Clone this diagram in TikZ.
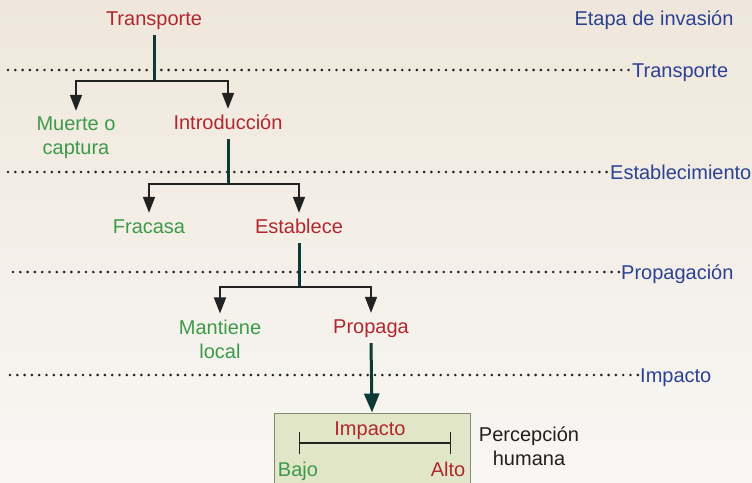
\documentclass[tikz,border=0pt]{standalone}
\usepackage{fontspec}
\setmainfont{Liberation Sans}
\usetikzlibrary{arrows.meta}
\definecolor{cred}{HTML}{B2262D}
\definecolor{cgreen}{HTML}{3C9A4A}
\definecolor{cblue}{HTML}{2C4193}
\definecolor{cstem}{HTML}{0E3A35}
\definecolor{cbranch}{HTML}{222222}
\definecolor{bgtop}{HTML}{EFE7DB}
\definecolor{bgbot}{HTML}{F8F7F4}
\definecolor{boxfill}{HTML}{E2E6C9}
\definecolor{boxline}{HTML}{868A6C}
\definecolor{cdark}{HTML}{231F20}
\tikzset{
  lbl/.style={inner xsep=3pt, inner ysep=6pt, text height=14pt, text depth=4pt},
  mlbl/.style={inner xsep=3pt, inner ysep=6pt, align=center},
  redtxt/.style={text=cred},
  greentxt/.style={text=cgreen},
  stage/.style={text=cblue, anchor=west, inner xsep=2pt, inner ysep=0pt, text height=16pt, text depth=2pt},
  stem/.style={draw=cstem, line width=3pt},
  branch/.style={draw=cbranch, line width=1.7pt, -{Triangle[width=12pt,length=16pt]}},
  bigarrow/.style={draw=cstem, line width=3pt, -{Triangle[width=15pt,length=19pt]}},
  dotline/.style={draw=cbranch, line width=2.9pt, line cap=round, dash pattern=on 0pt off 7.3pt},
}
\begin{document}
\begin{tikzpicture}[x=1pt,y=-1pt, font=\fontsize{20}{24}\selectfont]
\useasboundingbox (0,0) rectangle (752,482);
\clip (0,0) rectangle (752,482);
\shade[top color=bgtop, bottom color=bgbot] (0,0) rectangle (752,482);

% stage labels
\node[lbl, text=cblue] (etapa) at (654,20) {Etapa de invasión};
\node[stage] (st1) at (630,70) {Transporte};
\node[stage] (st2) at (608,172) {Establecimiento};
\node[stage] (st3) at (619,272) {Propagación};
\node[stage] (st4) at (638,375) {Impacto};
\coordinate (d1) at (8,70);
\coordinate (d2) at (8,172);
\coordinate (d3) at (13,272);
\coordinate (d4) at (10,375);
\draw[dotline] (d1) -- (st1.west);
\draw[dotline] (d2) -- (st2.west);
\draw[dotline] (d3) -- (st3.west);
\draw[dotline] (d4) -- (st4.west);

% tree nodes
\node[lbl, redtxt] (transp) at (154,20) {Transporte};
\node[mlbl, greentxt] (muerte) at (76,138) {Muerte o\\captura};
\node[lbl, redtxt] (intro) at (228,124) {Introducción};
\node[lbl, greentxt] (fracasa) at (149,228) {Fracasa};
\node[lbl, redtxt] (establece) at (299,228) {Establece};
\node[mlbl, greentxt] (mantiene) at (220,339) {Mantiene\\local};
\node[lbl, redtxt] (propaga) at (371,328) {Propaga};

\coordinate (j1) at (154,81);
\coordinate (j2) at (228,184);
\coordinate (j3) at (299,287);

\draw[stem] (transp.south) -- (j1);
\draw[branch] (j1) -| (muerte.north);
\draw[branch] (j1) -| (intro.north);

\draw[stem] (intro.south) -- (j2);
\draw[branch] (j2) -| (fracasa.north);
\draw[branch] (j2) -| (establece.north);

\draw[stem] (establece.south) -- (j3);
\draw[branch] (j3) -| (mantiene.north);
\draw[branch] (j3) -| (propaga.north);

% impact box
\node[draw=boxline, line width=1pt, fill=boxfill, minimum width=196pt, minimum height=82pt, inner sep=0pt] (box) at (372,454) {};
\draw[bigarrow] (propaga.south) -- (box.north);

\node[lbl, redtxt] (imp) at (370,430) {Impacto};
\coordinate (sL) at (299,443);
\coordinate (sR) at (451,443);
\draw[draw=cbranch, line width=1.2pt, {Bar[width=22pt]}-{Bar[width=22pt]}] (sL) -- (sR);
\node[lbl, greentxt] (bajo) at (298,471) {Bajo};
\node[lbl, redtxt] (alto) at (448,471) {Alto};
\node[mlbl, text=cdark] (percep) at (529,446) {Percepción\\humana};
\end{tikzpicture}
\end{document}
